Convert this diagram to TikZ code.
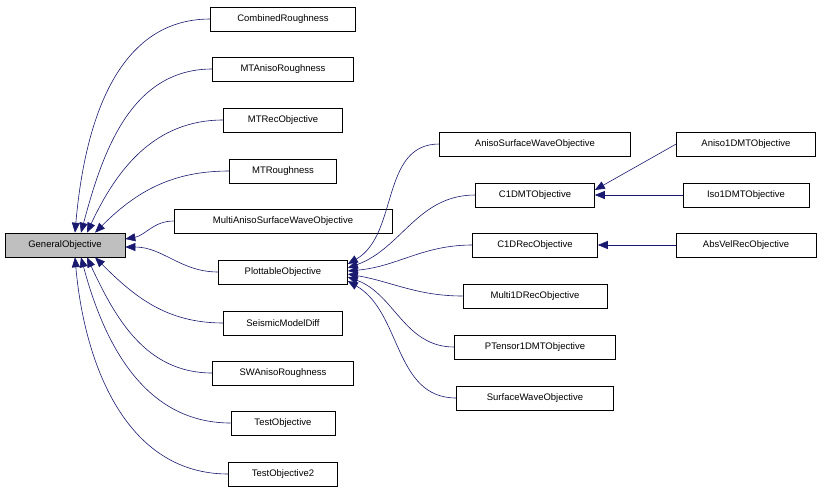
\documentclass[tikz,border=0pt]{standalone}
\usepackage{fontspec}
\setmainfont{Liberation Sans}
\usetikzlibrary{arrows.meta,calc}
\begin{document}
\begin{tikzpicture}[x=1pt,y=-1pt,
  box/.style={draw=black,fill=white,font=\fontsize{9.5}{11}\selectfont,minimum height=24pt,inner xsep=0pt,line width=0.6pt},
  arr/.style={draw={rgb,255:red,25;green,25;blue,112},line width=0.6pt,-{Triangle[width=8pt,length=10pt,fill={rgb,255:red,25;green,25;blue,112}]}}]
\useasboundingbox (0,0) rectangle (827,493);
\node[box,fill={rgb,255:red,191;green,191;blue,191},minimum width=120pt] (GO) at (65,245) {GeneralObjective};
\node[box,minimum width=145pt] (CR) at (283,19) {CombinedRoughness};
\node[box,minimum width=141pt] (MAR) at (283,69) {MTAnisoRoughness};
\node[box,minimum width=119pt] (MRO) at (283,120) {MTRecObjective};
\node[box,minimum width=107pt] (MR) at (283,171) {MTRoughness};
\node[box,minimum width=218pt] (MAS) at (283,221) {MultiAnisoSurfaceWaveObjective};
\node[box,minimum width=129pt] (PO) at (283,272) {PlottableObjective};
\node[box,minimum width=119pt] (SMD) at (283,323) {SeismicModelDiff};
\node[box,minimum width=141pt] (SWA) at (283,373) {SWAnisoRoughness};
\node[box,minimum width=104pt] (TO) at (283,423) {TestObjective};
\node[box,minimum width=109pt] (TO2) at (283,474) {TestObjective2};
\node[box,minimum width=191pt] (ASW) at (535,144) {AnisoSurfaceWaveObjective};
\node[box,minimum width=119pt] (C1M) at (535,195) {C1DMTObjective};
\node[box,minimum width=125pt] (C1R) at (535,245) {C1DRecObjective};
\node[box,minimum width=144pt] (M1R) at (535,296) {Multi1DRecObjective};
\node[box,minimum width=161pt] (PT) at (535,347) {PTensor1DMTObjective};
\node[box,minimum width=157pt] (SW) at (535,398) {SurfaceWaveObjective};
\node[box,minimum width=139pt] (A1M) at (746,144) {Aniso1DMTObjective};
\node[box,minimum width=126pt] (I1M) at (746,195) {Iso1DMTObjective};
\node[box,minimum width=140pt] (AVR) at (746,245) {AbsVelRecObjective};
% to GeneralObjective
\draw[arr] (CR.west) to[out=180,in=85] ($(GO.north)+(10,0)$);
\draw[arr] (MAR.west) to[out=180,in=75] ($(GO.north)+(16,0)$);
\draw[arr] (MRO.west) to[out=180,in=65] ($(GO.north)+(22,0)$);
\draw[arr] (MR.west) to[out=180,in=45] ($(GO.north)+(30,0)$);
\draw[arr] (MAS.west) to[out=180,in=10] ($(GO.east)+(0,-6)$);
\draw[arr] (PO.west) to[out=180,in=0] ($(GO.east)+(0,2)$);
\draw[arr] (SMD.west) to[out=180,in=-45] ($(GO.south)+(30,0)$);
\draw[arr] (SWA.west) to[out=180,in=-65] ($(GO.south)+(22,0)$);
\draw[arr] (TO.west) to[out=180,in=-75] ($(GO.south)+(16,0)$);
\draw[arr] (TO2.west) to[out=180,in=-85] ($(GO.south)+(10,0)$);
% to PlottableObjective
\draw[arr] (ASW.west) to[out=180,in=30] ($(PO.east)+(0,-8)$);
\draw[arr] (C1M.west) to[out=180,in=20] ($(PO.east)+(0,-4)$);
\draw[arr] (C1R.west) to[out=180,in=5] ($(PO.east)+(0,-1)$);
\draw[arr] (M1R.west) to[out=180,in=-10] ($(PO.east)+(0,2)$);
\draw[arr] (PT.west) to[out=180,in=-20] ($(PO.east)+(0,5)$);
\draw[arr] (SW.west) to[out=180,in=-30] ($(PO.east)+(0,9)$);
% others
\draw[arr] (A1M.west) -- ($(C1M.east)+(0,-5)$);
\draw[arr] (I1M.west) -- (C1M.east);
\draw[arr] (AVR.west) -- (C1R.east);
\end{tikzpicture}
\end{document}
